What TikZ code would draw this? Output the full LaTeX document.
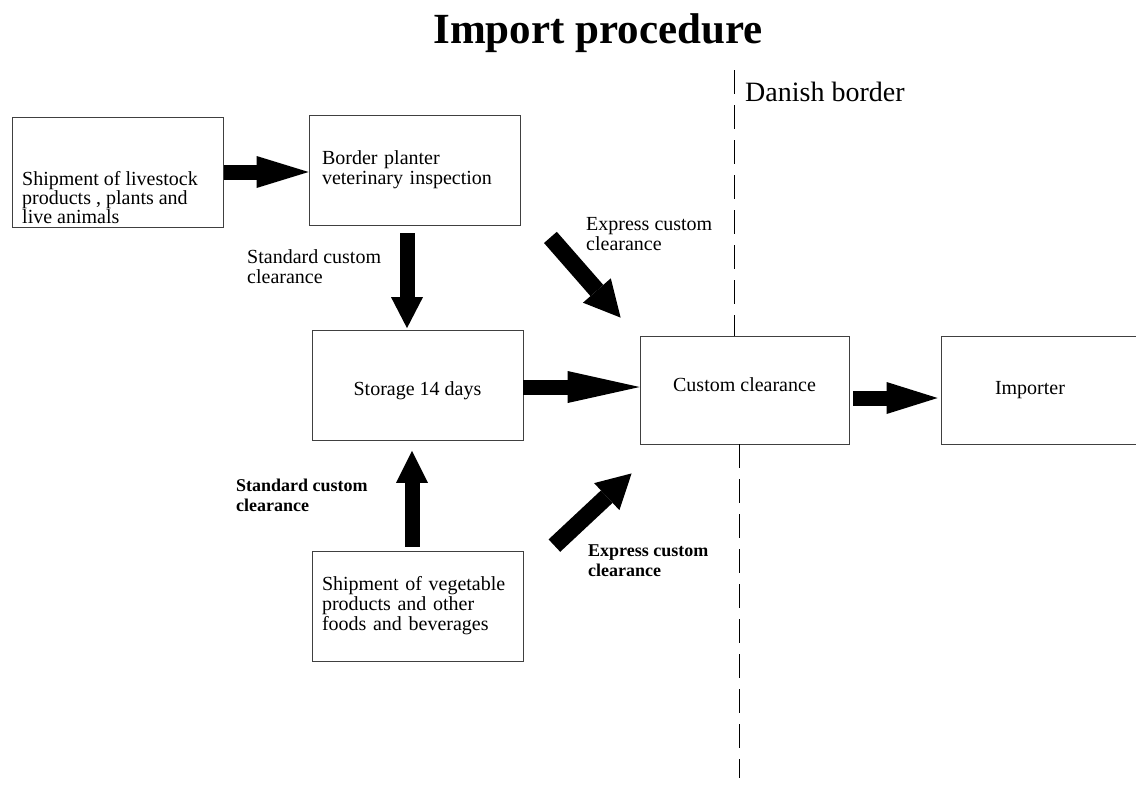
\documentclass[tikz,border=0pt]{standalone}
\usepackage{fontspec}
\setmainfont{Liberation Serif}
\usetikzlibrary{arrows.meta,calc}

\tikzset{
  box/.style={draw=black!75, line width=0.8pt, minimum width=211pt, minimum height=110pt,
    inner sep=0pt, font=\fontsize{20}{20}\selectfont},
  lbl/.style={anchor=north west, align=left, inner sep=0pt, font=\fontsize{20}{20}\selectfont},
  boldlbl/.style={lbl, font=\fontsize{18}{20}\selectfont\bfseries},
  fatarrow/.style={line width=15pt, -{Triangle[length=#1, width=32pt, line width=0pt]}},
  fatarrow/.default=33pt,
  diagarrow/.style={line width=17pt, -{Triangle[length=#1, width=37pt, line width=0pt]}},
  borderline/.style={draw=black, line width=0.8pt, dash pattern=on 24pt off 11pt}
}

\begin{document}
\begin{tikzpicture}[x=1pt, y=-1pt]
  \clip (0,0) rectangle (1136,788);
  \fill[white] (0,0) rectangle (1136,788);

  \node[anchor=base, inner sep=0pt, font=\fontsize{43}{43}\selectfont\bfseries] (title) at (598,43) {Import procedure};

  % boxes
  \node[box] (livestock) at (118,172) {};
  \node[anchor=north west, align=left, inner sep=0pt, font=\fontsize{20}{16.5}\selectfont] (livestocktxt) at (22,171)
    {Shipment of livestock\\products , plants and\\live animals};
  \node[box, text width=185pt, inner xsep=13pt, align=left] (border) at (414.5,170) {Border planter\\veterinary inspection};
  \node[box, text height=25pt] (storage) at (417.5,385.5) {Storage 14 days};
  \node[box, minimum width=209pt, minimum height=108pt, text depth=10pt] (custom) at (744.5,390) {Custom clearance};
  \node[box, minimum width=210pt, minimum height=108pt, text width=102pt, inner xsep=54pt, align=left] (importer) at (1046,390) {Importer};
  \node[box, text width=191pt, inner xsep=10pt, align=left] (veg) at (417.5,606)
    {Shipment of vegetable\\products and other\\foods and beverages};

  % labels
  \node[lbl] (stdtop) at (247,249) {Standard custom\\clearance};
  \node[lbl] (exptop) at (586,217) {Express custom\\clearance};
  \node[boldlbl] (stdbot) at (236,479) {Standard custom\\clearance};
  \node[boldlbl] (expbot) at (588,545) {Express custom\\clearance};
  \node[anchor=base west, inner sep=0pt, font=\fontsize{28}{28}\selectfont] (danish) at (745,101) {Danish border};

  % border line
  \coordinate (bordertop) at (734,70);
  \coordinate (borderbot) at (739,778);
  \draw[borderline] (bordertop) -- (bordertop |- custom.north);
  \draw[borderline] (custom.south -| borderbot) -- (borderbot);

  % arrows
  \draw[fatarrow=52pt] (livestock.east) -- (livestock.east -| border.west);
  \draw[fatarrow=31pt, shorten <=8pt, shorten >=2pt] ([xshift=-7.5pt]border.south) -- ([xshift=-7.5pt]border.south |- storage.north);
  \draw[fatarrow=72pt] ([yshift=-1.5pt]storage.east) -- ([yshift=-1.5pt]storage.east -| custom.west);
  \draw[fatarrow=51pt, shorten <=4pt, shorten >=3pt] ([yshift=-8pt]custom.east) -- ([yshift=-8pt]custom.east -| importer.west);
  \draw[fatarrow=32pt, shorten <=4pt, shorten >=10pt] ([xshift=-5.5pt]veg.north) -- ([xshift=-5.5pt]veg.north |- storage.south);
  \coordinate (exp1tail) at ($(border.south east)+(30,12)$);
  \coordinate (exp1tip) at ($(custom.north west)+(-19,-18)$);
  \draw[diagarrow=36pt] (exp1tail) -- (exp1tip);
  \coordinate (exp2tail) at ($(veg.north east)+(31,-5)$);
  \coordinate (exp2tip) at ($(custom.south west)+(-8,29)$);
  \draw[diagarrow=34pt] (exp2tail) -- (exp2tip);
\end{tikzpicture}
\end{document}
